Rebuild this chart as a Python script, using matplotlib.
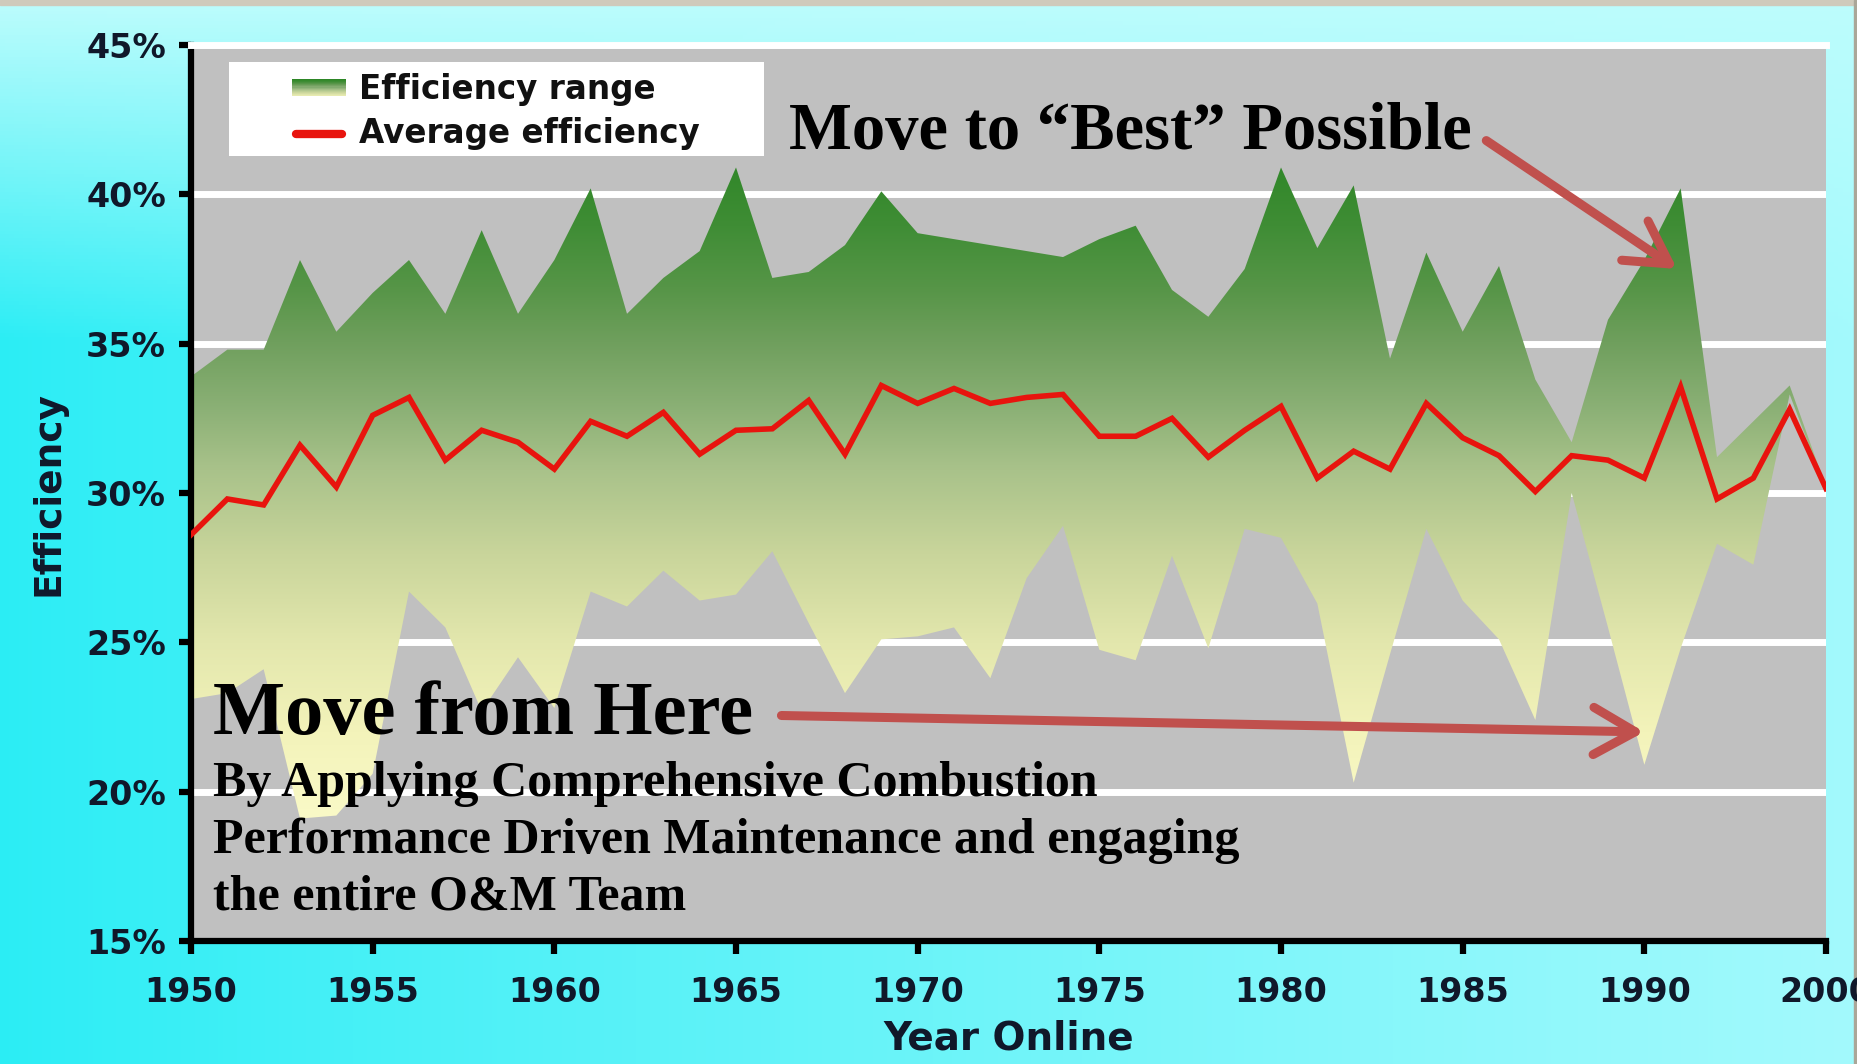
import numpy as np
import matplotlib
matplotlib.use('Agg')
import matplotlib.pyplot as plt
from matplotlib.colors import LinearSegmentedColormap
from matplotlib.patches import Rectangle

# data
years = list(range(1950, 1996))
upper = [33.9, 34.8, 34.8, 37.8, 35.4, 36.7, 37.8, 36.0, 38.8, 36.0,
         37.8, 40.2, 36.0, 37.2, 38.1, 40.9, 37.2, 37.4, 38.3, 40.1,
         38.7, 38.5, 38.3, 38.1, 37.9, 38.5, 38.95, 36.8, 35.9, 37.5,
         40.9, 38.2, 40.3, 34.5, 38.05, 35.4, 37.6, 33.8, 31.7, 35.8,
         37.8, 40.2, 31.2, 32.4, 33.6, 30.2]
lower = [23.1, 23.3, 24.1, 19.1, 19.2, 20.6, 26.7, 25.5, 22.7, 24.5,
         22.8, 26.7, 26.2, 27.4, 26.4, 26.6, 28.05, 25.65, 23.3, 25.1,
         25.2, 25.5, 23.8, 27.15, 28.9, 24.75, 24.4, 27.9, 24.8, 28.8,
         28.5, 26.3, 20.3, 24.6, 28.8, 26.4, 25.1, 22.4, 30.0, 25.5,
         20.9, 24.8, 28.3, 27.6, 33.3, 30.1]
average = [28.6, 29.8, 29.6, 31.6, 30.2, 32.6, 33.2, 31.1, 32.1, 31.7,
           30.8, 32.4, 31.9, 32.7, 31.3, 32.1, 32.15, 33.1, 31.3, 33.6,
           33.0, 33.5, 33.0, 33.2, 33.3, 31.9, 31.9, 32.5, 31.2, 32.1,
           32.9, 30.5, 31.4, 30.8, 33.0, 31.85, 31.25, 30.05, 31.25, 31.1,
           30.5, 33.55, 29.8, 30.5, 32.8, 30.15]

ytick_vals = [15, 20, 25, 30, 35, 40, 45]
ytick_labels = ['15%', '20%', '25%', '30%', '35%', '40%', '45%']
xtick_vals = [1950, 1955, 1960, 1965, 1970, 1975, 1980, 1985, 1990, 1995]
xtick_labels = ['1950', '1955', '1960', '1965', '1970', '1975', '1980', '1985', '1990', '2000']

plt.rcParams['font.family'] = ['DejaVu Sans']
plt.rcParams['font.weight'] = 'bold'
plt.rcParams['axes.labelweight'] = 'bold'

RED = '#e8140e'
ARROW = '#c0504d'
TXT = '#10182a'
SERIF = ['Liberation Serif', 'DejaVu Serif']

fig = plt.figure(figsize=(18.57, 10.64), dpi=100)

# slide background: cyan gradient
bg = fig.add_axes([0, 0, 1, 1], zorder=-10)
yy, xx = np.mgrid[0:1:300j, 0:1:400j]
strong = np.array([0.17, 0.93, 0.96])
light = np.array([0.64, 0.98, 0.99])
top = np.array([0.74, 0.99, 0.99])
s = (xx ** 0.9)[..., None]
img = strong * (1 - s) + light * s
f = np.clip(1 - yy / 0.32, 0, 1)[..., None]
img = img * (1 - f) + top * f
bg.imshow(img, extent=[0, 1, 0, 1], aspect='auto', origin='upper')
bg.set_xlim(0, 1)
bg.set_ylim(0, 1)
bg.axis('off')
fig.patches.append(Rectangle((0, 1 - 5 / 1064), 1, 5 / 1064, transform=fig.transFigure,
                             color='#cfcabb', zorder=-5))
fig.patches.append(Rectangle((1 - 3 / 1857, 0), 3 / 1857, 1, transform=fig.transFigure,
                             color='#aaa698', zorder=-5))

ax = fig.add_axes([191 / 1857, 1 - 941 / 1064, (1826 - 191) / 1857, (941 - 45) / 1064])
ax.set_facecolor('#c0c0c0')
ax.set_axisbelow(True)
ax.yaxis.grid(True, color='white', lw=5)
ax.xaxis.grid(False)

# efficiency range with vertical green -> pale yellow gradient
grad_cmap = LinearSegmentedColormap.from_list('eff', [
    (0.00, '#fbfbca'), (0.15, '#f3f3ba'), (0.28, '#e3e7ad'), (0.41, '#c9d59b'),
    (0.54, '#a7c189'), (0.63, '#89af74'), (0.72, '#6f9f5d'), (0.80, '#569547'),
    (0.89, '#3f8d35'), (1.00, '#2d8626')])
band = ax.fill_between(years, lower, upper, color='none', lw=0)
band_path = band.get_paths()[0]
band.remove()
grad = np.linspace(0, 1, 256).reshape(-1, 1)
im = ax.imshow(grad, extent=[1950, 1995, 18.5, 41.5], origin='lower', aspect='auto',
               cmap=grad_cmap, zorder=2, interpolation='bilinear')
im.set_clip_path(band_path, ax.transData)

ax.plot(years, average, color=RED, lw=4, zorder=4, solid_joinstyle='miter')

ax.set_xlim(1950, 1995)
ax.set_ylim(15, 45)
ax.set_xticks(xtick_vals)
ax.set_xticklabels(xtick_labels)
ax.set_yticks(ytick_vals)
ax.set_yticklabels(ytick_labels)
ax.tick_params(axis='both', direction='out', length=9, width=4.5, color='black',
               labelsize=24, labelcolor=TXT)
ax.tick_params(axis='x', pad=16)
ax.tick_params(axis='y', pad=9)

for side in ['left', 'bottom']:
    ax.spines[side].set_color('black')
    ax.spines[side].set_linewidth(4.5)
ax.spines['top'].set_color('white')
ax.spines['top'].set_linewidth(5)
ax.spines['right'].set_visible(False)

ax.set_xlabel('Year Online', fontsize=28, color=TXT, labelpad=8)
ax.set_ylabel('Efficiency', fontsize=27, color=TXT, labelpad=14)

# legend box drawn by hand (gradient swatch)
ax.add_patch(Rectangle((0.0232, 0.876), 0.327, 0.105, transform=ax.transAxes,
                       facecolor='white', edgecolor='none', zorder=5))
n_strips = 16
for i in range(n_strips):
    y0 = 0.943 + i * (0.019 / n_strips)
    ax.add_patch(Rectangle((0.0618, y0), 0.033, 0.019 / n_strips + 0.0005,
                           transform=ax.transAxes, lw=0,
                           facecolor=grad_cmap(0.25 + 0.75 * i / (n_strips - 1)), zorder=6))
ax.plot([0.0645, 0.0925], [0.9007, 0.9007], transform=ax.transAxes, color=RED, lw=6,
        solid_capstyle='round', zorder=6, clip_on=False)
ax.text(0.1028, 0.950, 'Efficiency range', transform=ax.transAxes, fontsize=23.5,
        color='#111111', va='center', ha='left', zorder=7)
ax.text(0.1028, 0.9007, 'Average efficiency', transform=ax.transAxes, fontsize=23.5,
        color='#111111', va='center', ha='left', zorder=7)

# annotations
ax.text(1966.45, 41.52, 'Move to “Best” Possible', family=SERIF, fontsize=48,
        fontweight='bold', color='black', va='baseline', ha='left', zorder=7)
ax.annotate('', xy=(1990.9, 37.5), xytext=(1985.65, 41.8),
            arrowprops=dict(arrowstyle='->,head_length=3.0,head_width=1.7',
                            mutation_scale=10, lw=6.5, color=ARROW,
                            shrinkA=0, shrinkB=0), zorder=7)

ax.text(1950.6, 21.93, 'Move from Here', family=SERIF, fontsize=55,
        fontweight='bold', color='black', va='baseline', ha='left', zorder=7)
ax.annotate('', xy=(1990.0, 22.0), xytext=(1966.25, 22.55),
            arrowprops=dict(arrowstyle='->,head_length=3.0,head_width=1.7',
                            mutation_scale=10, lw=6.5, color=ARROW,
                            shrinkA=0, shrinkB=0), zorder=7)

body_lines = ['By Applying Comprehensive Combustion',
              'Performance Driven Maintenance and engaging',
              'the entire O&M Team']
body_y = [19.86, 17.93, 16.04]
for line, yb in zip(body_lines, body_y):
    ax.text(1950.6, yb, line, family=SERIF, fontsize=36, fontweight='bold',
            color='black', va='baseline', ha='left', zorder=7)

fig.savefig('out.png', dpi=100)
